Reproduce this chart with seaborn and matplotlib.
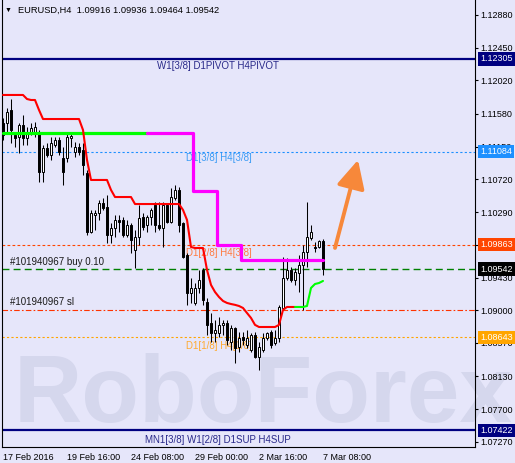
import matplotlib
matplotlib.use("Agg")
import matplotlib.pyplot as plt
import pandas as pd
import seaborn as sns

# EURUSD H4 candles, 17 Feb 2016 00:00 .. 7 Mar 2016 08:00
opens = [1.11461, 1.11461, 1.11632, 1.11303, 1.11277, 1.11435, 1.11264, 1.11329, 1.11329, 1.11343,
         1.10817, 1.11132, 1.11041, 1.11172, 1.11238, 1.11001, 1.11001, 1.11264, 1.11080, 1.11145,
         1.11106, 1.10804, 1.10029, 1.10253, 1.10278, 1.10410, 1.10357, 1.09990, 1.10081, 1.10187,
         1.10187, 1.09990, 1.10121, 1.09793, 1.09963, 1.10226, 1.10121, 1.10226, 1.10384, 1.10121,
         1.10081, 1.10384, 1.10160, 1.10475, 1.10581, 1.10147, 1.09727, 1.09227, 1.09096, 1.09293,
         1.09530, 1.09109, 1.08833, 1.08701, 1.08701, 1.08808, 1.08833, 1.08583, 1.08767, 1.08520,
         1.08649, 1.08545, 1.08480, 1.08677, 1.08386, 1.08480, 1.08636, 1.08715, 1.08570, 1.08636,
         1.09030, 1.09424, 1.09530, 1.09399, 1.09490, 1.09596, 1.09766, 1.09950, 1.09831, 1.09831,
         1.09916]
highs = [1.11527, 1.11658, 1.11776, 1.11329, 1.11461, 1.11566, 1.11408, 1.11461, 1.11474, 1.11369,
         1.11172, 1.11198, 1.11277, 1.11277, 1.11277, 1.11145, 1.11343, 1.11343, 1.11211, 1.11198,
         1.11198, 1.10844, 1.10318, 1.10318, 1.10450, 1.10475, 1.10515, 1.10147, 1.10253, 1.10253,
         1.10226, 1.10187, 1.10147, 1.10056, 1.10384, 1.10278, 1.10253, 1.10344, 1.10423, 1.10423,
         1.10423, 1.10410, 1.10607, 1.10647, 1.10620, 1.10160, 1.09753, 1.09424, 1.09358, 1.09530,
         1.09556, 1.09161, 1.08964, 1.08874, 1.08912, 1.08874, 1.08874, 1.08808, 1.08780, 1.08715,
         1.08715, 1.08742, 1.08701, 1.08715, 1.08583, 1.08701, 1.08715, 1.08742, 1.08742, 1.09071,
         1.09700, 1.09687, 1.09569, 1.09556, 1.09727, 1.09859, 1.10423, 1.10121, 1.09897, 1.09924,
         1.09936]
lows = [1.11238, 1.11329, 1.11198, 1.11145, 1.11067, 1.11172, 1.11172, 1.11303, 1.11277, 1.10686,
        1.10686, 1.11014, 1.10975, 1.11145, 1.11041, 1.10647, 1.10948, 1.11145, 1.11014, 1.11041,
        1.10778, 1.09990, 1.10015, 1.10056, 1.10187, 1.10318, 1.09884, 1.09884, 1.09963, 1.10029,
        1.09963, 1.09963, 1.09753, 1.09556, 1.09859, 1.10056, 1.10029, 1.10121, 1.10029, 1.10056,
        1.09831, 1.10147, 1.10147, 1.10450, 1.10029, 1.09687, 1.09071, 1.09096, 1.09071, 1.09227,
        1.09071, 1.08677, 1.08583, 1.08583, 1.08649, 1.08677, 1.08545, 1.08480, 1.08310, 1.08455,
        1.08545, 1.08507, 1.08455, 1.08373, 1.08217, 1.08455, 1.08611, 1.08507, 1.08545, 1.08583,
        1.09005, 1.09399, 1.09372, 1.09333, 1.09240, 1.09005, 1.09569, 1.09924, 1.09766, 1.09818,
        1.09464]
closes = [1.11303, 1.11605, 1.11369, 1.11264, 1.11435, 1.11264, 1.11329, 1.11395, 1.11408, 1.10817,
          1.11132, 1.11041, 1.11198, 1.11238, 1.11080, 1.10817, 1.11277, 1.11290, 1.11145, 1.11080,
          1.10909, 1.10029, 1.10278, 1.10278, 1.10410, 1.10344, 1.09990, 1.10081, 1.10187, 1.10160,
          1.09990, 1.10121, 1.09924, 1.09963, 1.10213, 1.10094, 1.10226, 1.10318, 1.10121, 1.10081,
          1.10384, 1.10160, 1.10488, 1.10581, 1.10121, 1.09700, 1.09227, 1.09293, 1.09293, 1.09399,
          1.09136, 1.08808, 1.08701, 1.08742, 1.08808, 1.08833, 1.08611, 1.08767, 1.08507, 1.08636,
          1.08611, 1.08636, 1.08677, 1.08386, 1.08520, 1.08636, 1.08701, 1.08545, 1.08636, 1.09043,
          1.09424, 1.09530, 1.09399, 1.09503, 1.09596, 1.09766, 1.09963, 1.10029, 1.09818, 1.09916,
          1.09542]

# trailing stop: red above price (bars 0-73), green below price (bars 73-80)
trail_red = [1.11829, 1.11829, 1.11829, 1.11829, 1.11829, 1.11829, 1.11776, 1.11763, 1.11763, 1.11632,
             1.11513, 1.11513, 1.11513, 1.11513, 1.11513, 1.11513, 1.11513, 1.11513, 1.11513, 1.11513,
             1.11369, 1.10975, 1.10712, 1.10712, 1.10712, 1.10712, 1.10712, 1.10581, 1.10488, 1.10488,
             1.10488, 1.10488, 1.10488, 1.10396, 1.10396, 1.10396, 1.10396, 1.10396, 1.10396, 1.10396,
             1.10396, 1.10396, 1.10396, 1.10396, 1.10396, 1.10318, 1.10187, 1.09831, 1.09818, 1.09818,
             1.09818, 1.09530, 1.09333, 1.09240, 1.09174, 1.09122, 1.09096, 1.09082, 1.09071, 1.09056,
             1.09030, 1.08964, 1.08899, 1.08808, 1.08780, 1.08780, 1.08780, 1.08780, 1.08780, 1.08808,
             1.09005, 1.09043, 1.09043, 1.09043]
trail_green = [1.09043, 1.09043, 1.09043, 1.09056, 1.09293, 1.09345, 1.09358, 1.09385]
trail_green_start = 73

# H4 octave level (step line): first bar of each step and its price
level_start = [0, 48, 54, 60]
level_price = [1.11329, 1.10567, 1.09859, 1.09662]
level_green_end = 36

# horizontal levels: price, colour, label
hl_prices = [1.12305, 1.11084, 1.09863, 1.09542, 1.09000, 1.08643, 1.07422]
hl_colors = ["#000080", "#1e90ff", "#ff4500", "#008000", "#ff3300", "#ffa500", "#000080"]
hl_labels = ["W1[3/8] D1PIVOT H4PIVOT", "D1[3/8] H4[3/8]", "D1[2/8] H4[3/8]",
             "#101940967 buy 0.10", "#101940967 sl", "D1[1/8] H4[1/8]",
             "MN1[3/8] W1[2/8] D1SUP H4SUP"]
hl_label_colors = ["#2a2a8a", "#3c9cf5", "#ff7a40", "#1a1a1a", "#1a1a1a", "#ffaa30", "#2a2a8a"]

price_ticks = [1.12880, 1.12450, 1.12020, 1.11580, 1.11150, 1.10720, 1.10290, 1.09860,
               1.09430, 1.09000, 1.08570, 1.08130, 1.07700, 1.07270]
time_ticks = [0, 16, 32, 48, 64, 80]
time_labels = ["17 Feb 2016", "19 Feb 16:00", "24 Feb 08:00", "29 Feb 00:00",
               "2 Mar 16:00", "7 Mar 08:00"]

sns.set_style("white")
plt.rcParams["font.family"] = ["Liberation Sans", "DejaVu Sans"]

BG = "#e6e6fa"
W, H = 515, 463
fig = plt.figure(figsize=(W / 100, H / 100), dpi=100, facecolor=BG)
ax = fig.add_axes([2 / W, 16 / H, 473 / W, 447 / H])
ax.set_facecolor("none")
ax.set_xlim(-0.25, 118)
ax.set_ylim(1.07203, 1.13077)

df = pd.DataFrame({"open": opens, "high": highs, "low": lows, "close": closes})
df["bar"] = range(len(df))
df["bull"] = df["close"] >= df["open"]

# watermark
fig.text(14 / W, 1 - 422 / H, "RoboForex", fontsize=68, fontweight="bold", color="#d5d7ed",
         ha="left", va="baseline", zorder=-1)

# horizontal levels
styles = ["-", (0, (2, 2)), (0, (2.5, 2)), (0, (5, 3)), (0, (5, 2, 1.5, 2)), (0, (2, 2)), "-"]
widths = [1.6, 0.8, 0.8, 1.0, 0.8, 0.8, 1.6]
for p, c, ls, w in zip(hl_prices, hl_colors, styles, widths):
    ax.axhline(p, color=c, ls=ls, lw=w, zorder=2)

ytr = ax.get_yaxis_transform()
label_pos = [(157, 66), (186, 158), (186, 253), (10, 262), (10, 302), (186, 346), (145, 440)]
for (px, py), txt, c in zip(label_pos, hl_labels, hl_label_colors):
    ax.text((px - 2) / 473, 1.13077 - 0.0001314 * py, txt, transform=ytr,
            fontsize=7, color=c, ha="left", va="center", zorder=2)

# candles
ax.vlines(df["bar"], df["low"], df["high"], color="black", lw=0.75, zorder=3)
body_lo = df[["open", "close"]].min(axis=1)
body_h = (df["close"] - df["open"]).abs().clip(lower=0.00003)
ax.bar(df["bar"], body_h, bottom=body_lo, width=0.55,
       color=["white" if b else "black" for b in df["bull"]],
       edgecolor="black", linewidth=0.7, zorder=3)

# H4 octave step line
lvl = []
for i in range(len(df)):
    k = max(j for j, s in enumerate(level_start) if s <= i)
    lvl.append(level_price[k])
lv = pd.DataFrame({"bar": df["bar"], "level": lvl})
sns.lineplot(data=lv[lv["bar"] <= level_green_end], x="bar", y="level", ax=ax,
             color="#00ff00", lw=2.3, drawstyle="steps-mid", zorder=4)
sns.lineplot(data=lv[lv["bar"] >= level_green_end], x="bar", y="level", ax=ax,
             color="#ff00ff", lw=2.3, drawstyle="steps-mid", zorder=4)

# trailing stop
sns.lineplot(x=list(range(len(trail_red))), y=trail_red, ax=ax, color="#ff0000", lw=1.5, zorder=4)
sns.lineplot(x=list(range(trail_green_start, trail_green_start + len(trail_green))), y=trail_green,
             ax=ax, color="#00ff00", lw=1.5, zorder=4)

# forecast arrow
ax.annotate("", xy=(88.75, 1.10975), xytext=(83.0, 1.09819),
            arrowprops=dict(arrowstyle="-|>,head_length=0.9,head_width=0.45",
                            color="#f7883a", lw=2.8, mutation_scale=19,
                            shrinkA=0, shrinkB=0), zorder=5)

# axes
for s in ["left", "right", "bottom"]:
    ax.spines[s].set_color("black")
    ax.spines[s].set_linewidth(0.8)
ax.spines["top"].set_visible(False)
ax.yaxis.tick_right()
ax.set_yticks(price_ticks)
ax.set_yticklabels([f"{p:.5f}" for p in price_ticks])
ax.set_xticks(time_ticks)
ax.set_xticklabels(time_labels, ha="left")
ax.tick_params(axis="both", direction="out", length=2.5, width=0.8, labelsize=6.5,
               colors="black", pad=1.5)
ax.set_xlabel("")
ax.set_ylabel("")

# highlighted prices on the price scale
box_prices = [1.12305, 1.11084, 1.09863, 1.09542, 1.08643, 1.07422]
box_colors = ["#000080", "#1e90ff", "#ff4500", "#000000", "#ffa500", "#000080"]
for p, c in zip(box_prices, box_colors):
    ax.text(1 + 5 / 473, p, f"{p:.5f}", transform=ytr, fontsize=6.5, color="white",
            ha="left", va="center", clip_on=False, zorder=10,
            bbox=dict(boxstyle="square,pad=0.25", fc=c, ec="none"))

# header
fig.text(5 / W, 1 - 10 / H, "\u25bc", fontsize=5, color="black", va="center")
fig.text(18 / W, 1 - 10 / H, "EURUSD,H4  1.09916 1.09936 1.09464 1.09542",
         fontsize=6.7, color="black", va="center")

fig.savefig("out.png", dpi=100, facecolor=BG)
